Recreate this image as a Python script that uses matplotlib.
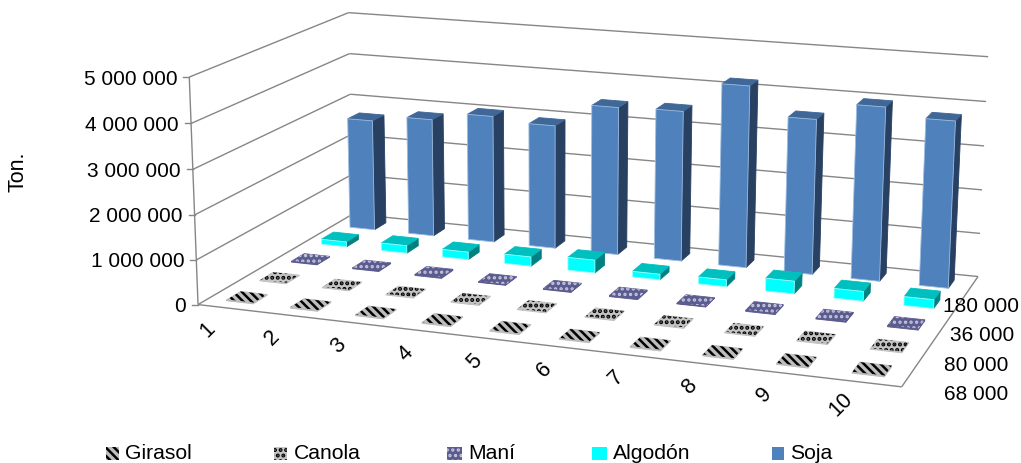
import numpy as np
import matplotlib
matplotlib.use('Agg')
import matplotlib.pyplot as plt
from matplotlib.patches import Polygon, Rectangle

plt.rcParams['font.family'] = ['Liberation Sans', 'DejaVu Sans']

W, H = 1021, 464

categories = ['1', '2', '3', '4', '5', '6', '7', '8', '9', '10']
series = ['Girasol', 'Canola', 'Maní', 'Algodón', 'Soja']
depth_labels = ['68 000', '80 000', '36 000', '180 000']
value_ticks = [0, 1000000, 2000000, 3000000, 4000000, 5000000]
value_labels = ['0', '1 000 000', '2 000 000', '3 000 000', '4 000 000', '5 000 000']

girasol = [20000, 20000, 20000, 20000, 20000, 20000, 20000, 20000, 20000, 20000]
canola = [15000, 15000, 15000, 15000, 15000, 15000, 15000, 15000, 15000, 15000]
mani = [20000, 20000, 25000, 15000, 20000, 25000, 15000, 25000, 20000, 25000]
algodon = [120000, 180000, 180000, 220000, 300000, 130000, 160000, 290000, 220000, 200000]
soja = [2670000, 2820000, 3020000, 2920000, 3470000, 3500000, 4200000, 3560000, 3960000, 3770000]

# floor/wall corners in chart units -> pixels, used to solve the camera
calib = [
    ((0, 0, 0), (198, 304.5)), ((0, 0, 5), (189, 79)),
    ((10, 0, 0), (902, 388)), ((10, 5, 0), (978, 277)),
    ((0, 5, 0), (352, 216)), ((0, 5, 5), (348, 13)),
    ((10, 5, 5), (988, 57)), ((0, 5, 3), (352, 95)),
    ((10, 5, 3), (984, 148)),
]


def solve_camera(pairs):
    rows = []
    for (x, y, z), (u, v) in pairs:
        rows.append([x, y, z, 1, 0, 0, 0, 0, -u*x, -u*y, -u*z, -u])
        rows.append([0, 0, 0, 0, x, y, z, 1, -v*x, -v*y, -v*z, -v])
    return np.linalg.svd(np.array(rows, float))[2][-1].reshape(3, 4)


P = solve_camera(calib)


def project(x, y, z):
    u, v, w = P @ np.array([x, y, z / 1e6, 1.0])
    return u / w, v / w


fig = plt.figure(figsize=(W / 100, H / 100), dpi=100)
ax = fig.add_axes([0, 0, 1, 1])
ax.set_xlim(0, W)
ax.set_ylim(H, 0)
ax.axis('off')

grid = '#868686'
ink = '#000000'


def line3(a, b):
    p, q = project(*a), project(*b)
    ax.plot([p[0], q[0]], [p[1], q[1]], color=grid, lw=1, zorder=1, solid_capstyle='butt')


for t in value_ticks:
    line3((0, 0, t), (0, 5, t))
    line3((0, 5, t), (10, 5, t))
line3((0, 0, 0), (0, 0, 5000000))
line3((0, 0, 0), (10, 0, 0))
line3((10, 0, 0), (10, 5, 0))

for t, lab in zip(value_ticks, value_labels):
    px, py = project(0, 0, t)
    ax.plot([px - 6, px], [py, py], color=grid, lw=1, zorder=1)
    ax.text(px - 12, py + 1, lab, ha='right', va='center', fontsize=15, color=ink)

for i, lab in enumerate(categories):
    px, py = project(i + 0.5, 0, 0)
    ax.text(px - 22, py + 21, lab, rotation=45, ha='center', va='center', fontsize=15.5, color=ink)

for lab, pos in zip(depth_labels, [(976, 395), (976, 366), (982, 336), (981, 307)]):
    ax.text(pos[0], pos[1], lab, ha='center', va='center', fontsize=15, color=ink)

ax.text(18, 172, 'Ton.', rotation=90, ha='center', va='center', fontsize=15.5, color=ink)

styles = {
    'Girasol': dict(face='#bdbdbd', hatch='\\\\\\\\', hc='#000000', hlw=1.8),
    'Canola': dict(face='#c4c4c4', hatch='...', hc='#000000', hlw=2.0),
    'Maní': dict(face='#5b5b8f', hatch='...', hc='#c6c6dc', hlw=1.6),
    'Algodón': dict(face='#00ffff', top='#00bfbf', side='#008080', edge='#a0ffff'),
    'Soja': dict(face='#4f81bd', top='#3f6797', side='#284061', edge='#9dbde0'),
}
bar_w = 0.42
bar_d = 0.42
order = 10


def hatched(patch, st):
    patch.set_hatch_linewidth(st['hlw'])
    ax.add_patch(patch)


def face(pts, color, st=None, edge=None):
    global order
    xy = [project(*p) for p in pts]
    ax.add_patch(Polygon(xy, closed=True, facecolor=color, edgecolor=edge or color,
                         lw=0.6, zorder=order))
    if st and 'hatch' in st:
        hatched(Polygon(xy, closed=True, facecolor='none', edgecolor=st['hc'], hatch=st['hatch'],
                        lw=0, zorder=order), st)
    order += 1


def draw_bar(i, j, value, st):
    x0 = i + 0.5 - bar_w / 2
    x1 = i + 0.5 + bar_w / 2
    y0 = j + 0.5 - bar_d / 2
    y1 = j + 0.5 + bar_d / 2
    top = st.get('top', st['face'])
    side = st.get('side', st['face'])
    face([(x1, y0, 0), (x1, y1, 0), (x1, y1, value), (x1, y0, value)], side)
    face([(x0, y0, value), (x1, y0, value), (x1, y1, value), (x0, y1, value)], top, st)
    face([(x0, y0, 0), (x1, y0, 0), (x1, y0, value), (x0, y0, value)], st['face'],
         edge=st.get('edge'))


all_values = [girasol, canola, mani, algodon, soja]
for j in range(len(series) - 1, -1, -1):
    for i in range(len(categories) - 1, -1, -1):
        draw_bar(i, j, all_values[j][i], styles[series[j]])

# legend row
legend_x = [106, 274, 447, 592, 772]
legend_w = [13, 13, 15, 15, 12]
legend_tx = [125, 294, 468, 613, 790]
for name, sx, sw, tx in zip(series, legend_x, legend_w, legend_tx):
    st = styles[name]
    ax.add_patch(Rectangle((sx, 448), sw, 13, facecolor=st['face'], edgecolor='none', zorder=5))
    if 'hatch' in st:
        hatched(Rectangle((sx, 448), sw, 13, facecolor='none', edgecolor=st['hc'],
                          hatch=st['hatch'], lw=0, zorder=6), st)
    ax.text(tx, 454, name, ha='left', va='center', fontsize=15.2, color=ink)

fig.savefig('out.png', dpi=100)
